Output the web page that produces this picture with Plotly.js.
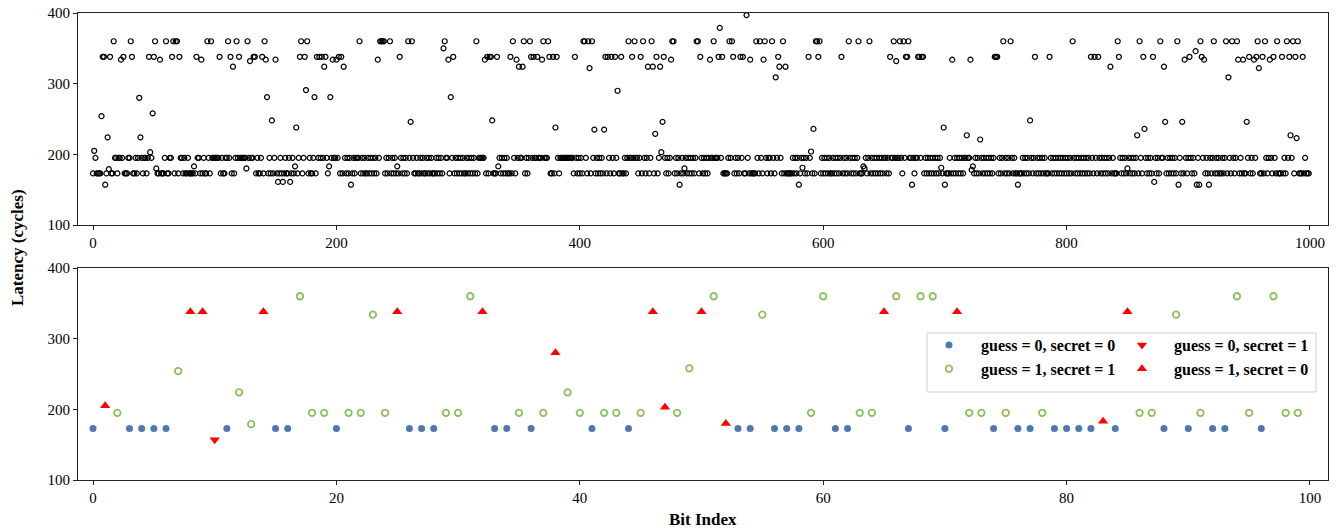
<!DOCTYPE html>
<html><head><meta charset="utf-8">
<script src="https://cdn.plot.ly/plotly-3.0.1.min.js"></script>
<style>html,body{margin:0;padding:0;background:#fff}#chart{width:1339px;height:529px}</style>
</head><body><div id="chart"></div>
<script>
const latency0 = [173,205,195,173,173,173,173,254,338,338,
157,173,224,179,338,173,173,360,195,195,
173,195,195,334,195,338,173,173,173,195,
195,360,338,173,173,195,173,195,280,224,
195,173,195,195,173,195,338,203,195,258,
338,360,180,173,173,334,173,173,173,195,
360,173,173,195,195,338,360,173,360,360,
173,338,195,195,173,195,173,173,195,173,
173,173,173,183,173,338,195,195,173,334,
173,195,173,173,360,195,173,360,195,195];
const latency1 = [195,195,195,195,338,173,195,173,173,195,
195,360,195,338,173,324,173,195,360,195,
338,195,195,195,195,195,180,360,195,332,
195,195,338,338,173,195,173,173,195,338,
173,360,334,281,173,195,173,248,173,195,
334,173,161,173,195,173,161,173,195,173,
173,195,161,173,195,173,183,238,173,195,
338,360,173,195,338,291,360,173,195,173,
173,195,281,173,338,195,338,195,338,195,
324,338,195,173,183,281,195,334,195,195];
const latency2 = [334,195,338,173,338,173,324,195,173,195,
173,195,157,173,195,173,195,195,195,360,
173,195,173,195,173,173,195,173,195,173,
195,173,195,173,334,195,360,360,360,360,
173,195,173,195,360,173,195,173,195,173,
183,173,338,195,173,195,173,195,173,360,
195,246,360,195,173,173,195,173,173,195,
173,195,173,173,195,173,195,173,195,173,
173,173,195,173,195,173,195,173,350,360,
195,195,334,173,281,195,338,173,195,173];
const latency3 = [195,173,195,173,195,173,173,195,173,195,
173,195,173,195,173,360,173,195,195,195,
195,195,334,173,338,173,338,338,248,173,
173,173,338,183,195,173,195,173,195,173,
195,173,173,338,173,360,195,173,334,195,
324,195,195,324,360,173,195,173,195,360,
338,195,338,195,195,338,195,195,195,334,
360,195,195,195,360,338,173,173,338,173,
238,338,195,173,195,195,195,195,195,195,
195,195,195,195,195,173,338,195,173,195];
const latency4 = [173,195,173,360,360,195,173,360,322,173,
360,195,235,173,195,173,195,173,195,173,
235,338,173,338,195,173,338,195,173,338,
195,290,173,173,338,173,173,195,173,195,
360,195,195,338,195,360,195,195,173,195,
338,173,360,195,173,195,324,173,195,360,
324,173,229,338,173,195,324,203,246,338,
195,173,195,173,195,334,360,360,173,195,
173,195,157,173,195,173,180,195,173,195,
173,195,173,195,173,195,360,360,173,338];
const latency5 = [195,173,195,173,195,173,195,334,195,195,
360,195,195,195,338,379,195,338,173,173,
173,173,195,360,195,360,338,173,195,173,
195,173,338,195,338,173,173,397,195,173,
334,173,173,173,173,360,195,173,360,195,
173,334,360,195,173,195,195,173,360,195,
173,309,195,338,324,195,173,360,173,324,
173,173,173,173,173,195,173,195,173,195,
157,173,195,181,195,173,195,173,338,195,
204,173,236,173,360,360,338,360,173,195];
const latency6 = [173,195,173,195,173,195,173,173,195,173,
195,173,195,173,195,338,173,195,173,195,
173,360,195,173,195,173,195,173,195,360,
173,173,173,183,180,195,173,195,360,173,
195,173,195,173,195,173,195,173,195,173,
195,195,173,195,173,338,195,195,360,195,
332,195,195,360,195,173,360,195,338,338,
360,195,195,157,195,173,195,195,338,338,
195,338,338,173,195,173,195,173,195,173,
195,173,195,173,195,173,195,181,173,238];
const latency7 = [157,173,173,173,195,173,334,173,195,173,
195,173,195,173,195,173,195,195,227,195,
195,334,178,183,173,195,173,195,173,221,
195,173,195,173,195,173,195,173,195,173,
195,338,338,338,173,195,173,195,360,173,
195,173,195,173,360,195,173,195,173,173,
157,173,173,173,195,173,195,173,195,173,
248,195,173,195,338,173,195,173,195,173,
195,173,195,173,173,173,338,195,173,195,
173,195,173,195,173,195,173,195,173,195];
const latency8 = [173,195,173,195,173,360,195,173,195,173,
195,173,195,173,195,173,195,173,195,173,
338,195,173,338,195,173,338,195,173,195,
173,195,173,195,173,195,324,173,195,173,
173,173,360,338,195,173,195,173,195,173,
180,195,173,195,173,195,173,195,227,173,
360,195,173,338,236,195,173,195,173,195,
173,338,161,195,173,195,173,360,195,195,
324,246,173,195,173,195,173,195,173,195,
173,360,157,195,173,246,173,334,195,173];
const latency9 = [195,338,195,173,195,173,346,157,195,157,
360,338,195,334,173,195,173,157,195,173,
195,360,173,195,173,195,173,173,195,173,
195,360,173,309,195,173,360,195,173,195,
360,334,173,195,173,334,173,173,246,195,
338,173,195,173,334,195,338,360,322,173,
173,338,173,360,195,173,195,334,195,173,
338,195,173,360,173,173,173,338,173,195,
173,360,195,338,227,195,360,173,338,223,
360,173,173,173,338,173,195,173,173,173];

// first 100 bits: guess / secret labels (bottom panel)
const bitGuess = [0,1,1,0,0,0,0,1,1,1, 0,0,1,1,1,0,0,1,1,1, 0,1,1,1,1,1,0,0,0,1, 1,1,1,0,0,1,0,1,1,1,
  1,0,1,1,0,1,1,1,1,1, 1,1,1,0,0,1,0,0,0,1, 1,0,0,1,1,1,1,0,1,1, 0,1,1,1,0,1,0,0,1,0,
  0,0,0,1,0,1,1,1,0,1, 0,1,0,0,1,1,0,1,1,1];
const bitSecret = [0,0,1,0,0,0,0,1,0,0, 1,0,1,1,0,0,0,1,1,1, 0,1,1,1,1,0,0,0,0,1, 1,1,0,0,0,1,0,1,0,1,
  1,0,1,1,0,1,0,0,1,1, 0,1,0,0,0,1,0,0,0,1, 1,0,0,1,1,0,1,0,1,1, 0,0,1,1,0,1,0,0,1,0,
  0,0,0,0,0,0,1,1,0,1, 0,1,0,0,1,1,0,1,1,1];

const topXTicks = [0,200,400,600,800,1000];
const bottomXTicks = [0,20,40,60,80,100];
const yTicks = [100,200,300,400];

const latency = [].concat(latency0,latency1,latency2,latency3,latency4,latency5,latency6,latency7,latency8,latency9);
const bitIndex = latency.map((_, i) => i);

const SERIF = 'Liberation Serif, Times New Roman, serif';

const classes = [
  {name:'guess = 0, secret = 0', g:0, s:0, legend:'legend',  marker:{symbol:'circle', size:7, color:'#4f78b2'}},
  {name:'guess = 1, secret = 1', g:1, s:1, legend:'legend',  marker:{symbol:'circle-open', size:6.5, color:'#8cc05a', line:{width:1.8, color:'#8cc05a'}}},
  {name:'guess = 0, secret = 1', g:0, s:1, legend:'legend2', marker:{symbol:'triangle-down', size:9, color:'#ff0000'}},
  {name:'guess = 1, secret = 0', g:1, s:0, legend:'legend2', marker:{symbol:'triangle-up', size:9, color:'#ff0000'}}
];

const traces = [{
  type:'scatter', mode:'markers', x:bitIndex, y:latency, xaxis:'x', yaxis:'y', showlegend:false,
  marker:{symbol:'circle-open', size:5, color:'#000', line:{width:1.2, color:'#000'}}, hoverinfo:'x+y'
}];
classes.forEach(c => {
  const xs = [], ys = [];
  bitGuess.forEach((g, i) => { if (g === c.g && bitSecret[i] === c.s) { xs.push(i); ys.push(latency[i]); } });
  traces.push({type:'scatter', mode:'markers', name:c.name, x:xs, y:ys, xaxis:'x2', yaxis:'y2', legend:c.legend, marker:c.marker});
});

const axBase = {showline:true, mirror:true, linecolor:'#222', linewidth:1, showgrid:false, zeroline:false,
  ticks:'outside', ticklen:4, tickwidth:1, tickcolor:'#222', tickfont:{family:SERIF, size:15, color:'#000'}};

const L = 78, R = 1328, T = 13, B = 480, W = 1339, H = 529;
const px2x = p => (p - L) / (R - L);
const px2y = p => (B - p) / (B - T);

const legendFont = {family:SERIF, size:16, color:'#000', weight:'bold'};
const layout = {
  width:W, height:H, margin:{l:L, r:W-R, t:T, b:H-B}, paper_bgcolor:'#fff', plot_bgcolor:'#fff',
  showlegend:true,
  xaxis: Object.assign({}, axBase, {domain:[0,1], anchor:'y', range:[-12.33, 1014.8], tickvals:topXTicks}),
  yaxis: Object.assign({}, axBase, {domain:[px2y(225), 1], anchor:'x', range:[100,400], tickvals:yTicks}),
  xaxis2: Object.assign({}, axBase, {domain:[0,1], anchor:'y2', range:[-1.233, 101.48], tickvals:bottomXTicks}),
  yaxis2: Object.assign({}, axBase, {domain:[0, px2y(268)], anchor:'x2', range:[100,400], tickvals:yTicks}),
  legend: {x:px2x(917), y:px2y(328), xanchor:'left', yanchor:'top', bgcolor:'rgba(0,0,0,0)', borderwidth:0, font:legendFont, itemwidth:54, tracegroupgap:0},
  legend2: {x:px2x(1110), y:px2y(328), xanchor:'left', yanchor:'top', bgcolor:'rgba(0,0,0,0)', borderwidth:0, font:legendFont, itemwidth:54, tracegroupgap:0},
  shapes: [{type:'rect', xref:'paper', yref:'paper', x0:px2x(927), x1:px2x(1316), y0:px2y(392), y1:px2y(333), line:{color:'#cfcfcf', width:1}, fillcolor:'rgba(255,255,255,0.8)', layer:'below'}],
  annotations: [
    {text:'Latency (cycles)', xref:'paper', yref:'paper', x:px2x(17), y:px2y(247), textangle:-90, showarrow:false, xanchor:'center', yanchor:'middle', font:{family:SERIF, size:17, color:'#000', weight:'bold'}},
    {text:'Bit Index', xref:'paper', yref:'paper', x:px2x(703), y:px2y(519), showarrow:false, xanchor:'center', yanchor:'middle', font:{family:SERIF, size:17, color:'#000', weight:'bold'}}
  ]
};

Plotly.newPlot('chart', traces, layout, {staticPlot:true, displayModeBar:false});
</script></body></html>
